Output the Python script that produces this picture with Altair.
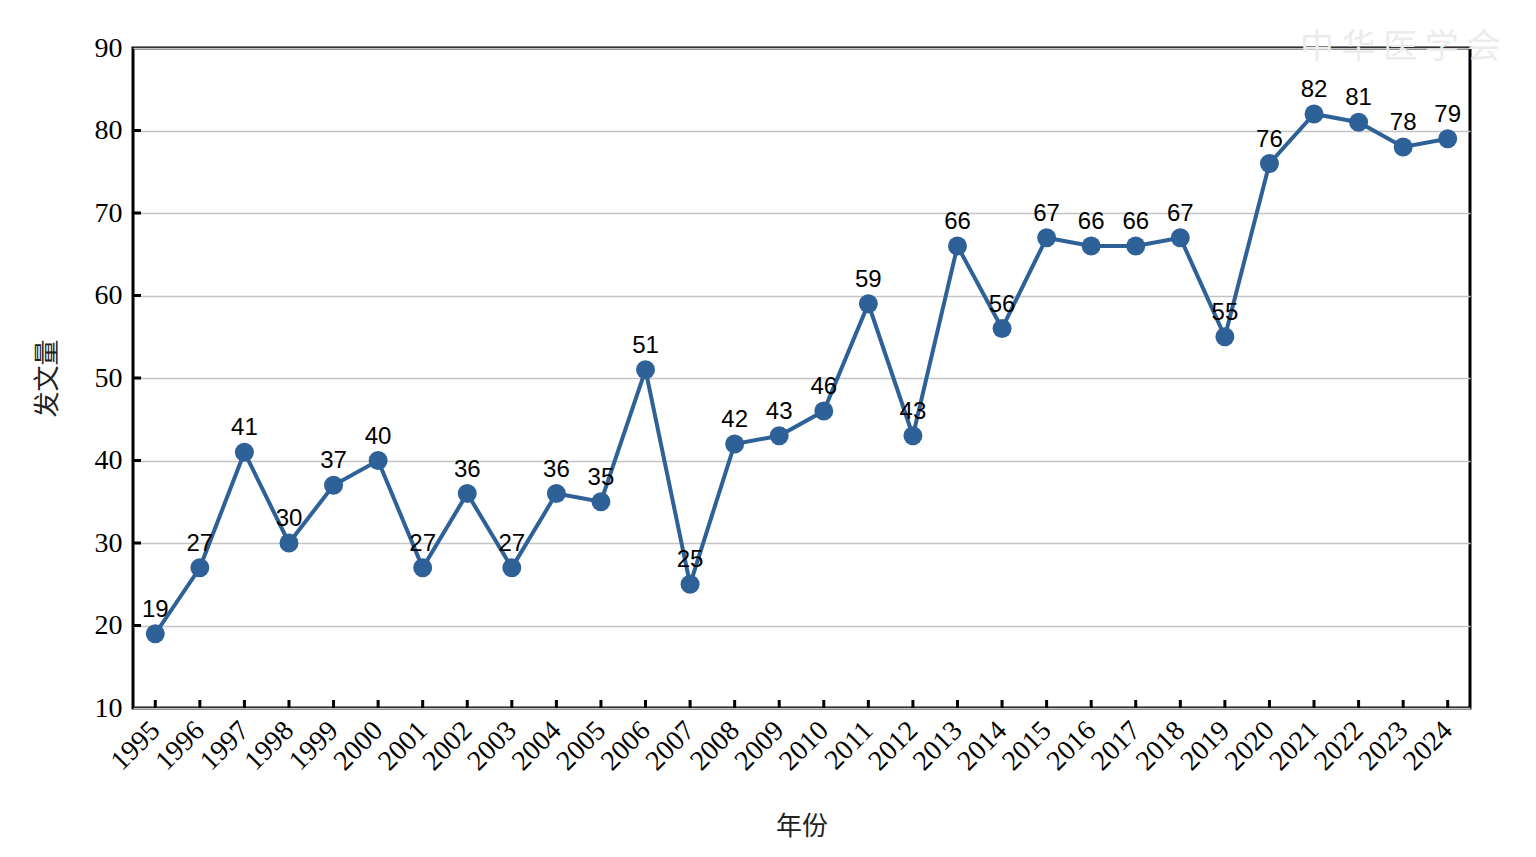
import altair as alt
import pandas as pd

years = [str(y) for y in range(1995, 2025)]
counts = [19, 27, 41, 30, 37, 40, 27, 36, 27, 36, 35, 51, 25, 42, 43, 46, 59, 43,
          66, 56, 67, 66, 66, 67, 55, 76, 82, 81, 78, 79]
y_ticks = [10, 20, 30, 40, 50, 60, 70, 80, 90]

df = pd.DataFrame({"年份": years, "发文量": counts})
ticks_df = pd.DataFrame({"v": y_ticks[1:-1]})
xt_df = pd.DataFrame({"年份": years})

W, H = 1337, 660
color = "#2e6197"

xscale = alt.Scale(type="point", padding=0.5, domain=years)
yscale = alt.Scale(domain=[10, 90], nice=False, zero=False)

x_enc = alt.X("年份:O", scale=xscale, sort=years,
              axis=alt.Axis(title="年份", labelAngle=-45, labelFont="Liberation Serif",
                            labelFontSize=28, labelColor="black", labelPadding=18,
                            ticks=False, domain=False, grid=False,
                            titleFont="Noto Sans CJK SC", titleFontSize=26,
                            titleFontWeight="normal", titleColor="#222222",
                            titlePadding=38))
y_enc = alt.Y("发文量:Q", scale=yscale,
              axis=alt.Axis(title="发文量", values=y_ticks, labelFont="Liberation Serif",
                            labelFontSize=28, labelColor="black", labelPadding=11,
                            ticks=False, domain=False, grid=True, gridColor="#c4c4c4",
                            gridWidth=1.5, titleFont="Noto Sans CJK SC", titleFontSize=26,
                            titleFontWeight="normal", titleColor="#222222",
                            titlePadding=34))

base = alt.Chart(df)
line = base.mark_line(color=color, strokeWidth=4).encode(x=x_enc, y=y_enc)
pts = base.mark_circle(color=color, size=360, opacity=1).encode(
    x=alt.X("年份:O", scale=xscale, sort=years), y=alt.Y("发文量:Q", scale=yscale))
labels = base.mark_text(font="Liberation Sans", fontSize=24, color="black",
                        baseline="middle", dy=-24).encode(
    x=alt.X("年份:O", scale=xscale, sort=years), y=alt.Y("发文量:Q", scale=yscale),
    text="发文量:Q")

ytick_marks = alt.Chart(ticks_df).mark_rule(color="black", strokeWidth=3).encode(
    y=alt.Y("v:Q", scale=yscale), x=alt.value(0), x2=alt.value(8))
xtick_marks = alt.Chart(xt_df).mark_rule(color="black", strokeWidth=3).encode(
    x=alt.X("年份:O", scale=xscale, sort=years), y=alt.value(H), y2=alt.value(H - 8))

watermark = alt.Chart(pd.DataFrame({"t": ["中 华 医 学 会"]})).mark_text(
    font="Noto Sans CJK SC", fontSize=34, color="#ececec", align="left",
    baseline="middle").encode(text="t:N", x=alt.value(W - 170), y=alt.value(0))

chart = alt.layer(watermark, ytick_marks, xtick_marks, line, pts, labels).properties(
    width=W, height=H,
    autosize=alt.AutoSizeParams(type="none"),
    padding={"left": 125, "top": 40, "right": 50, "bottom": 140},
    background="white",
).configure_view(stroke="black", strokeWidth=3)

chart.save("out.html", embed_options={"renderer": "svg", "actions": False})
